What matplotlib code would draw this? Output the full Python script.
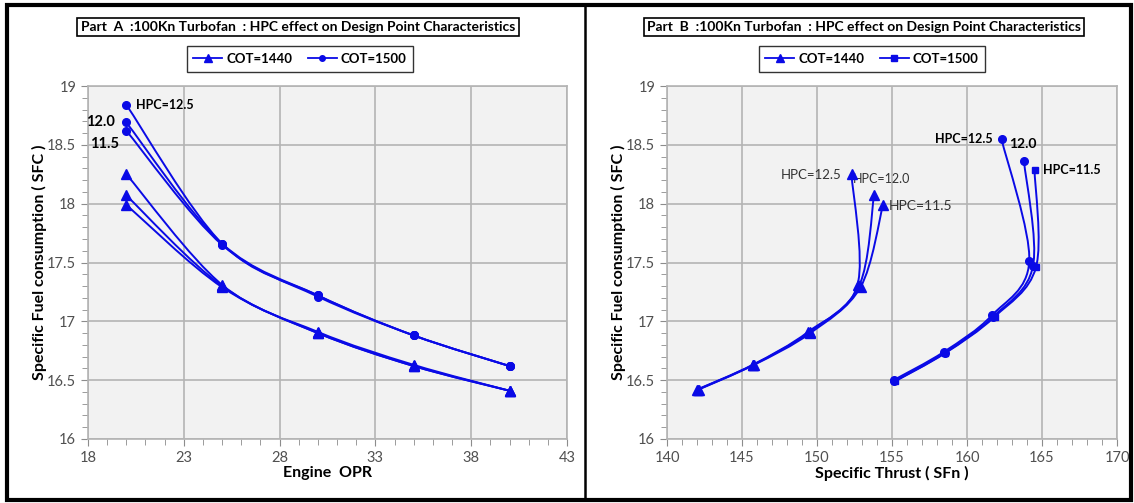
import numpy as np
import matplotlib
matplotlib.use("Agg")
import matplotlib.pyplot as plt
from matplotlib.path import Path
from matplotlib.patches import PathPatch, Rectangle
from matplotlib.lines import Line2D
from matplotlib.ticker import MultipleLocator, FixedLocator

plt.rcParams['font.family'] = ['Lato', 'DejaVu Sans']

# data
opr = [20, 25, 30, 35, 40]
hpc = ['12.5', '12.0', '11.5']

# Part A : SFC vs OPR
sfc_a_1440 = {'12.5': [18.25, 17.31, 16.91, 16.63, 16.41],
              '12.0': [18.07, 17.30, 16.90, 16.62, 16.41],
              '11.5': [17.99, 17.29, 16.90, 16.62, 16.41]}
sfc_a_1500 = {'12.5': [18.84, 17.66, 17.22, 16.88, 16.62],
              '12.0': [18.69, 17.66, 17.22, 16.88, 16.62],
              '11.5': [18.62, 17.65, 17.21, 16.88, 16.62]}

# Part B : SFC vs specific thrust
sfn_b_1440 = {'12.5': [152.3, 152.7, 149.4, 145.7, 142.0],
              '12.0': [153.8, 152.8, 149.5, 145.75, 142.05],
              '11.5': [154.4, 152.9, 149.55, 145.8, 142.1]}
sfc_b_1440 = {'12.5': [18.25, 17.31, 16.91, 16.63, 16.42],
              '12.0': [18.07, 17.30, 16.91, 16.63, 16.42],
              '11.5': [17.99, 17.29, 16.90, 16.63, 16.42]}
sfn_b_1500 = {'12.5': [162.3, 164.15, 161.65, 158.45, 155.1],
              '12.0': [163.8, 164.4, 161.75, 158.5, 155.15],
              '11.5': [164.5, 164.6, 161.85, 158.55, 155.2]}
sfc_b_1500 = {'12.5': [18.55, 17.51, 17.05, 16.74, 16.50],
              '12.0': [18.36, 17.47, 17.04, 16.73, 16.49],
              '11.5': [18.29, 17.46, 17.04, 16.73, 16.49]}

xticks_a = [18, 23, 28, 33, 38, 43]
xticks_b = [140, 145, 150, 155, 160, 165, 170]

BLUE = '#0A0AE6'


def smooth_line(ax, x, y, lw=1.4):
    # excel style smoothed line (catmull-rom as cubic bezier)
    p = np.column_stack([x, y]).astype(float)
    n = len(p)
    verts = [p[0]]
    codes = [Path.MOVETO]
    for i in range(n - 1):
        p0 = p[i - 1] if i > 0 else p[i]
        p3 = p[i + 2] if i + 2 < n else p[i + 1]
        c1 = p[i] + (p[i + 1] - p0) / 6
        c2 = p[i + 1] - (p3 - p[i]) / 6
        verts += [c1, c2, p[i + 1]]
        codes += [Path.CURVE4] * 3
    ax.add_patch(PathPatch(Path(verts, codes), fill=False, ec=BLUE, lw=lw, zorder=3))


def style_axes(ax, xticks, ylim):
    ax.set_facecolor('#F2F2F2')
    ax.set_xlim(xticks[0], xticks[-1])
    ax.set_ylim(*ylim)
    ax.xaxis.set_major_locator(FixedLocator(xticks))
    ax.xaxis.set_minor_locator(MultipleLocator(1))
    ax.yaxis.set_major_locator(MultipleLocator(0.5))
    ax.yaxis.set_minor_locator(MultipleLocator(0.1))
    ax.grid(True, which='major', color='#B4B4B4', lw=1.2)
    ax.set_axisbelow(True)
    for s in ax.spines.values():
        s.set_color('#B4B4B4')
        s.set_linewidth(1.2)
    ax.tick_params(which='both', direction='out', color='#8C8C8C', labelcolor='#505050', labelsize=10.5)
    ax.tick_params(which='major', length=5)
    ax.tick_params(which='minor', length=4)
    ax.yaxis.set_major_formatter(matplotlib.ticker.FuncFormatter(lambda v, p: ('%g' % v)))


fig = plt.figure(figsize=(11.34, 5.03), dpi=100)
W, H = 1134, 503

axA = fig.add_axes([88 / W, 1 - 439 / H, 479 / W, 353 / H])
axB = fig.add_axes([667 / W, 1 - 439 / H, 450 / W, 353 / H])
style_axes(axA, xticks_a, (16, 19))
style_axes(axB, xticks_b, (16, 19))

# Part A
for h in hpc:
    smooth_line(axA, opr, sfc_a_1440[h])
    axA.plot(opr, sfc_a_1440[h], ls='none', marker='^', ms=7, color=BLUE, zorder=4)
    smooth_line(axA, opr, sfc_a_1500[h])
    axA.plot(opr, sfc_a_1500[h], ls='none', marker='o', ms=5.5, color=BLUE, zorder=4)

axA.text(20.5, 18.84, 'HPC=12.5', fontsize=9, fontweight='bold', va='center', ha='left')
axA.text(19.4, 18.69, '12.0', fontsize=10.5, fontweight='bold', va='center', ha='right')
axA.text(19.6, 18.51, '11.5', fontsize=10.5, fontweight='bold', va='center', ha='right')

# Part B
for h in hpc:
    smooth_line(axB, sfn_b_1440[h], sfc_b_1440[h])
    axB.plot(sfn_b_1440[h], sfc_b_1440[h], ls='none', marker='^', ms=7, color=BLUE, zorder=4)
    smooth_line(axB, sfn_b_1500[h], sfc_b_1500[h])
    mk = 's' if h == '11.5' else 'o'
    axB.plot(sfn_b_1500[h], sfc_b_1500[h], ls='none', marker=mk, ms=5.5 if mk == 'o' else 5, color=BLUE, zorder=4)

axB.text(151.6, 18.24, 'HPC=12.5', fontsize=9.5, color='#333333', va='center', ha='right')
axB.text(152.4, 18.21, 'HPC=12.0', fontsize=9, color='#333333', va='center', ha='left')
axB.text(154.8, 17.98, 'HPC=11.5', fontsize=10, color='#333333', va='center', ha='left')
axB.text(161.7, 18.55, 'HPC=12.5', fontsize=9, fontweight='bold', va='center', ha='right')
axB.text(163.7, 18.51, '12.0', fontsize=10, fontweight='bold', va='center', ha='center')
axB.text(165.1, 18.29, 'HPC=11.5', fontsize=9, fontweight='bold', va='center', ha='left')

# titles, legends, labels
title_box = dict(boxstyle='square,pad=0.25', fc='white', ec='black', lw=1.2)
fig.text(298 / W, 1 - 27 / H, 'Part  A  :100Kn Turbofan  : HPC effect on Design Point Characteristics',
         ha='center', va='center', fontsize=10, fontweight='bold', bbox=title_box)
fig.text(864 / W, 1 - 27 / H, 'Part  B  :100Kn Turbofan  : HPC effect on Design Point Characteristics',
         ha='center', va='center', fontsize=10, fontweight='bold', bbox=title_box)

hA = [Line2D([], [], color=BLUE, marker='^', ms=5.5, lw=1.3),
      Line2D([], [], color=BLUE, marker='o', ms=4, lw=1.3)]
hB = [Line2D([], [], color=BLUE, marker='^', ms=5.5, lw=1.3),
      Line2D([], [], color=BLUE, marker='s', ms=4, lw=1.3)]
for ax, hh, cx in [(axA, hA, 300), (axB, hB, 872)]:
    leg = fig.legend(hh, ['COT=1440', 'COT=1500'], loc='center', bbox_to_anchor=(cx / W, 1 - 59 / H),
                     ncol=2, frameon=True, fancybox=False, edgecolor='black', fontsize=9.5,
                     handlelength=2.2, columnspacing=1.2, handletextpad=0.3, borderpad=0.5)
    leg.get_frame().set_linewidth(1.0)
    for t in leg.get_texts():
        t.set_fontweight('bold')

axA.set_xlabel('Engine  OPR', fontsize=11.5, fontweight='bold', labelpad=1)
axA.set_ylabel('Specific Fuel consumption ( SFC )', fontsize=11.5, fontweight='bold', labelpad=0)
axB.set_xlabel('Specific Thrust ( SFn )', fontsize=11.5, fontweight='bold', labelpad=1)
axB.set_ylabel('Specific Fuel consumption ( SFC )', fontsize=11.5, fontweight='bold', labelpad=0)

# outer frame and divider
fig.add_artist(Rectangle((7 / W, 3 / H), 1124 / W, 495 / H, transform=fig.transFigure,
                         fill=False, ec='black', lw=3))
fig.add_artist(Line2D([585 / W, 585 / W], [3 / H, 498 / H], transform=fig.transFigure, color='black', lw=1.8))

fig.savefig('out.png', dpi=100)
